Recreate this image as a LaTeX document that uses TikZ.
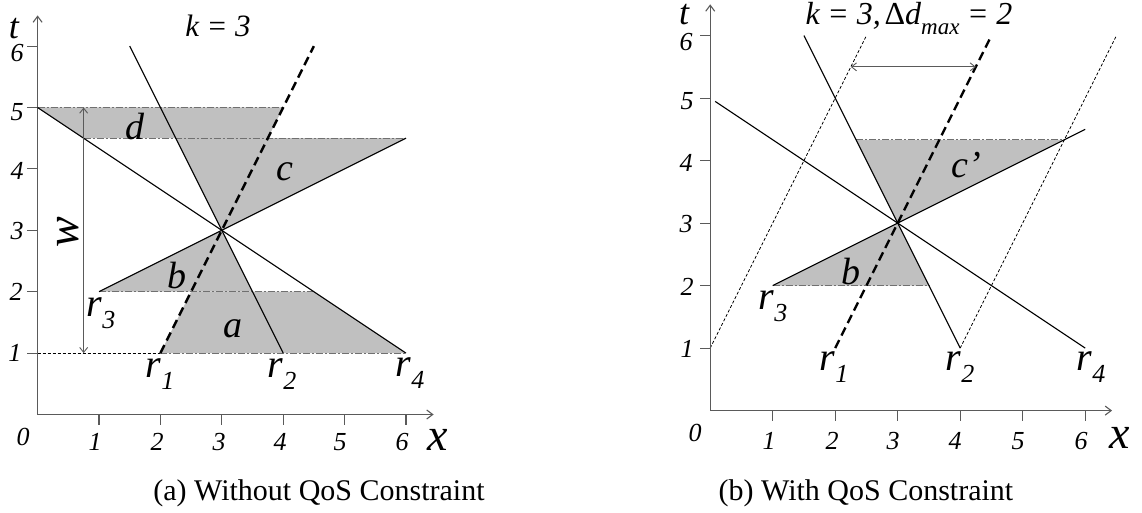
\documentclass[tikz,border=0pt]{standalone}
\usepackage{fontspec}
\setmainfont{Liberation Serif}
\usetikzlibrary{arrows.meta}
\newcommand\myfs[1]{\fontsize{#1pt}{#1pt}\selectfont}
\newcommand\rr[1]{r\raisebox{-0.3em}{\myfs{26}\itshape #1}}
\newcommand\releq{\hspace{0.24em}=\hspace{0.24em}}
\definecolor{regfill}{HTML}{C0C0C0}
\definecolor{axgray}{HTML}{5A5A5A}
\definecolor{bndgray}{HTML}{707070}
\begin{document}
\begin{tikzpicture}[x=1pt,y=-1pt,
  axisline/.style={draw=axgray,line width=1.1pt,-{Straight Barb[length=6pt,width=9pt]}},
  tickline/.style={draw=axgray,line width=1.1pt},
  regionfill/.style={fill=regfill},
  bound/.style={draw=bndgray,line width=1.1pt,dash pattern=on 7pt off 2pt on 2pt off 2pt},
  ray/.style={draw=black,line width=1.1pt},
  dashray/.style={draw=black,line width=2.4pt,dash pattern=on 9pt off 5pt},
  fineray/.style={draw=black,line width=0.8pt,dash pattern=on 3pt off 2pt},
  dimarrow/.style={draw=axgray,line width=0.9pt,{Straight Barb[length=5pt,width=8pt]}-{Straight Barb[length=5pt,width=8pt]}},
  ticklbl/.style={font=\myfs{26}\itshape,inner sep=0pt},
  axislbl/.style={font=\myfs{46}\itshape,inner sep=0pt},
  tlbl/.style={font=\myfs{36}\itshape,inner sep=0pt,anchor=base,text height=21pt,text depth=0pt},
  reglbl/.style={font=\myfs{38}\itshape,inner sep=0pt},
  rlbl/.style={font=\myfs{40}\itshape,inner sep=0pt},
  titlelbl/.style={inner sep=0pt,anchor=base},
  caplbl/.style={font=\myfs{30},inner sep=0pt}
]
\useasboundingbox (0,0) rectangle (1142,513);

% ---------------- left panel ----------------
\begin{scope}[shift={(37.6,414.5)},x=61.4pt,y=61.4pt]
  \coordinate (LO) at (0,0);
  \fill[regionfill] (0,5) -- (4,5) -- (3.75,4.5) -- (0.75,4.5) -- cycle;
  \fill[regionfill] (2.25,4.5) -- (6,4.5) -- (3,3) -- cycle;
  \fill[regionfill] (1,2) -- (3,3) -- (3.5,2) -- cycle;
  \fill[regionfill] (2,1) -- (6,1) -- (4.5,2) -- (2.5,2) -- cycle;
  \draw[bound] (0,5) -- (4,5);
  \draw[bound] (0.75,4.5) -- (6,4.5);
  \draw[bound] (1,2) -- (4.5,2);
  \draw[bound] (2,1) -- (6,1);
  \draw[fineray] (0,1) -- (2,1);
  \foreach \i in {1,...,6} {
    \draw[tickline] (\i,0) -- (\i,-0.17);
    \draw[tickline] (0,\i) -- (-0.17,\i);
  }
  \draw[axisline] (LO) -- (6.45,0);
  \draw[axisline] (LO) -- (0,6.5);
  \draw[ray] (1.5,6) -- (4,1);
  \draw[ray] (1,2) -- (6,4.5);
  \draw[ray] (0,5) -- (6,1);
  \draw[dashray] (2,1) -- (4.5,6);
  \draw[dimarrow] (0.75,1) -- (0.75,5);
\end{scope}

\node[titlelbl,font=\myfs{31}\itshape] (lk) at (218,37) {k\releq 3};
\node[tlbl] (lt) at (14,39) {t};
\node[ticklbl] (ly6) at (17,53) {6};
\node[ticklbl] (ly5) at (17,112) {5};
\node[ticklbl] (ly4) at (17,171) {4};
\node[ticklbl] (ly3) at (17,231) {3};
\node[ticklbl] (ly2) at (16,292) {2};
\node[ticklbl] (ly1) at (15,353) {1};
\node[ticklbl] (lx0) at (23,437) {0};
\node[ticklbl] (lx1) at (95,442) {1};
\node[ticklbl] (lx2) at (157,442) {2};
\node[ticklbl] (lx3) at (219,442) {3};
\node[ticklbl] (lx4) at (280,442) {4};
\node[ticklbl] (lx5) at (340,442) {5};
\node[ticklbl] (lx6) at (402,442) {6};
\node[axislbl] (lx) at (438,440) {x};
\node[axislbl,rotate=90] (lw) at (68,232) {w};
\node[reglbl] (ld) at (135,127) {d};
\node[reglbl] (lc) at (285,172) {c};
\node[reglbl] (lb) at (177,276) {b};
\node[reglbl] (la) at (233,329) {a};
\node[rlbl] (lr3) at (101,313) {\rr{3}};
\node[rlbl] (lr1) at (160,374) {\rr{1}};
\node[rlbl] (lr2) at (282,374) {\rr{2}};
\node[rlbl] (lr4) at (410,373) {\rr{4}};
\node[caplbl] (lcap) at (319,493) {(a) Without QoS Constraint};

% ---------------- right panel ----------------
\begin{scope}[shift={(710.2,410.6)},x=62.5pt,y=62.5pt]
  \coordinate (RO) at (0,0);
  \fill[regionfill] (3,3) -- (2.3333,4.3333) -- (5.6667,4.3333) -- cycle;
  \fill[regionfill] (1,2) -- (3,3) -- (3.5,2) -- cycle;
  \draw[bound] (2.3333,4.3333) -- (5.6667,4.3333);
  \draw[bound] (1,2) -- (3.5,2);
  \draw[fineray] (0,1) -- (2.5,6);
  \draw[fineray] (4,1) -- (6.5,6);
  \foreach \i in {1,...,6} {
    \draw[tickline] (\i,0) -- (\i,-0.16);
    \draw[tickline] (0,\i) -- (-0.16,\i);
  }
  \draw[axisline] (RO) -- (6.43,0);
  \draw[axisline] (RO) -- (0,6.5);
  \draw[ray] (1.5,6) -- (4,1);
  \draw[ray] (1,2) -- (6,4.5);
  \draw[ray] (0.08,4.947) -- (6,1);
  \draw[dashray] (2,1) -- (4.5,6);
  \draw[dimarrow] (2.25,5.5) -- (4.25,5.5);
\end{scope}

\node[titlelbl,font=\myfs{32}\itshape] (rk) at (909,25) {k\releq 3,\hspace{0.12em}\textup{Δ}d\raisebox{-0.3em}{\myfs{23}\itshape max}\releq 2};
\node[tlbl] (rt) at (684,25) {t};
\node[ticklbl] (ry6) at (686,42) {6};
\node[ticklbl] (ry5) at (687,101) {5};
\node[ticklbl] (ry4) at (686,163) {4};
\node[ticklbl] (ry3) at (686,224) {3};
\node[ticklbl] (ry2) at (687,287) {2};
\node[ticklbl] (ry1) at (687,349) {1};
\node[ticklbl] (rx0) at (695,433) {0};
\node[ticklbl] (rx1) at (769,441) {1};
\node[ticklbl] (rx2) at (832,441) {2};
\node[ticklbl] (rx3) at (893,441) {3};
\node[ticklbl] (rx4) at (955,441) {4};
\node[ticklbl] (rx5) at (1018,441) {5};
\node[ticklbl] (rx6) at (1081,441) {6};
\node[axislbl] (rx) at (1120,438) {x};
\node[reglbl] (rc) at (966,165) {c’};
\node[reglbl] (rb) at (851,272) {b};
\node[rlbl] (rr3) at (773,306) {\rr{3}};
\node[rlbl] (rr1) at (834,367) {\rr{1}};
\node[rlbl] (rr2) at (960,367) {\rr{2}};
\node[rlbl] (rr4) at (1091,367) {\rr{4}};
\node[caplbl] (rcap) at (866,493) {(b) With QoS Constraint};
\end{tikzpicture}
\end{document}
